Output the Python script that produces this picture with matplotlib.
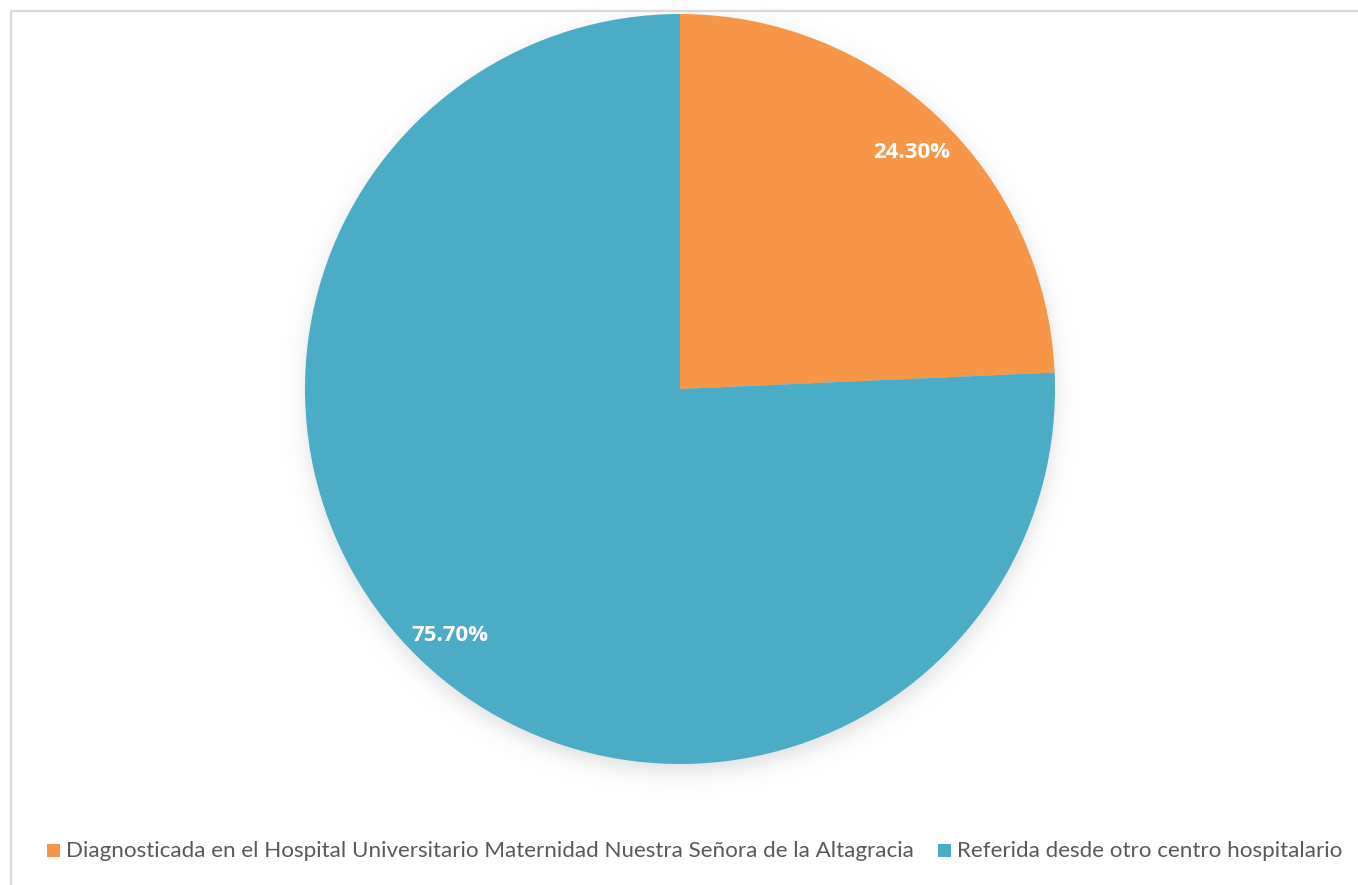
import numpy as np
import matplotlib
matplotlib.use("Agg")
import matplotlib.pyplot as plt
from matplotlib.patches import Rectangle

# Data
categories = [
    "Diagnosticada en el Hospital Universitario Maternidad Nuestra Señora de la Altagracia",
    "Referida desde otro centro hospitalario",
]
percentages = [24.30, 75.70]
colors = ["#F79646", "#4BACC6"]

W, H = 1358, 885
DPI = 100
fig = plt.figure(figsize=(W / DPI, H / DPI), dpi=DPI)
fig.patch.set_facecolor("white")

# Pie geometry in pixels
cx, cy, r = 680, 389, 375

# Background layer in pixel coordinates: drop shadow and chart-area border
bg = fig.add_axes([0, 0, 1, 1])
bg.set_axis_off()
yy, xx = np.mgrid[0:H, 0:W]
d = np.hypot(xx - cx, yy - (cy + 7))
alpha = 0.22 / (1 + np.exp((d - (r - 2)) / 7.0))
img = np.zeros((H, W, 4))
img[..., :3] = 0.35
img[..., 3] = alpha
bg.imshow(img, extent=(0, W, H, 0), interpolation="bilinear")
bg.plot([11, 11, W + 20], [H + 20, 11, 11], color="#D9D9D9", linewidth=1.6,
        solid_joinstyle="miter")
bg.set_xlim(0, W)
bg.set_ylim(H, 0)

ax = fig.add_axes([(cx - r) / W, (H - cy - r) / H, 2 * r / W, 2 * r / H])
wedges, _ = ax.pie(percentages, colors=colors, startangle=90, counterclock=False,
                   radius=1.0, wedgeprops=dict(linewidth=0))
ax.set_xlim(-1, 1)
ax.set_ylim(-1, 1)
ax.set_aspect("equal")
ax.set_axis_off()

# Value labels
for w, p in zip(wedges, percentages):
    mid = np.deg2rad((w.theta1 + w.theta2) / 2)
    ax.annotate(f"{p:.2f}%", (0.89 * np.cos(mid), 0.89 * np.sin(mid)),
                xytext=(1, -5), textcoords="offset pixels",
                ha="center", va="center", color="white", fontsize=16,
                fontweight="bold", family="Open Sans")

# Legend
leg_y = (H - 851) / H
sq = 13
items = [(47, 66), (938, 957)]
for (sx, tx), c, lab in zip(items, colors, categories):
    fig.patches.append(Rectangle((sx / W, (H - 857) / H), sq / W, sq / H,
                                 transform=fig.transFigure, facecolor=c, edgecolor="none"))
    fig.text(tx / W, leg_y, lab, ha="left", va="center", fontsize=16.1,
             color="#595959", family="Lato")

fig.savefig("out.png", dpi=DPI, facecolor="white")
